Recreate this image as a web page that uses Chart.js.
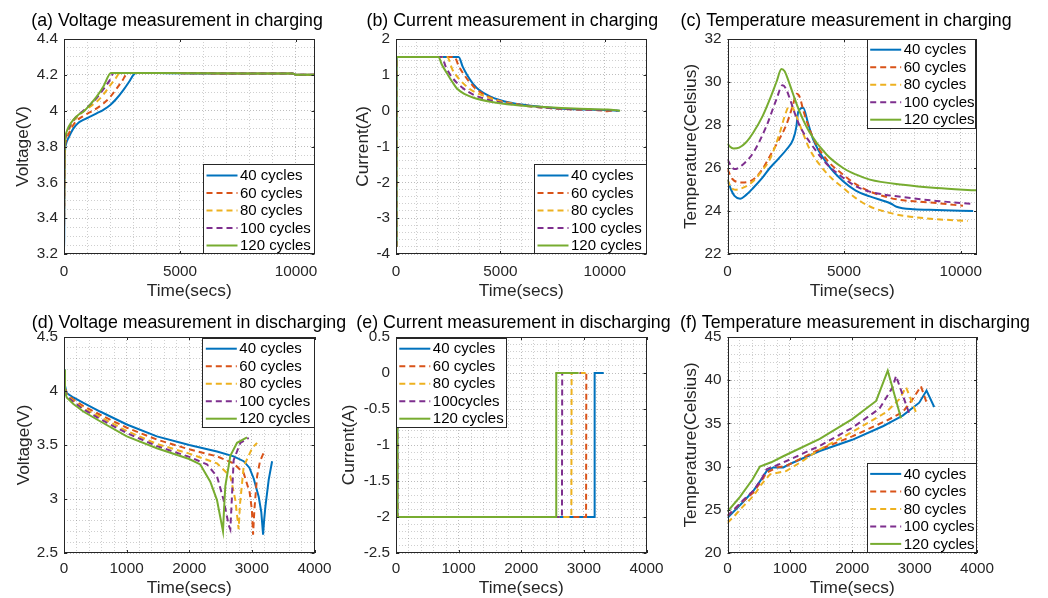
<!DOCTYPE html>
<html><head><meta charset="utf-8">
<script src="https://cdn.jsdelivr.net/npm/chart.js@4.4.1/dist/chart.umd.min.js"></script>
<style>
html,body{margin:0;padding:0;background:#fff;}
body{width:1048px;height:598px;position:relative;overflow:hidden;}
canvas{position:absolute;}
</style></head>
<body>
<canvas id="pa"></canvas><canvas id="pb"></canvas><canvas id="pc"></canvas>
<canvas id="pd"></canvas><canvas id="pe"></canvas><canvas id="pf"></canvas>
<script>
// ---------------- DATA ----------------
const cycleLabels  = ['40 cycles','60 cycles','80 cycles','100 cycles','120 cycles'];
const cycleLabelsE = ['40 cycles','60 cycles','80 cycles','100cycles','120 cycles'];

// (a) voltage in charging  [time s, volts]
const chgVolt40 = [[0,3.23],[10,3.30],[20,3.60],[40,3.76],[80,3.81],[200,3.85],[400,3.90],[600,3.93],[833,3.948],[1100,3.965],[1408,3.985],[1700,4.005],[1983,4.03],[2250,4.065],[2557,4.115],[2800,4.16],[2988,4.199],[3100,4.21],[4000,4.21],[6000,4.207],[8000,4.207],[9850,4.207],[10000,4.2],[10800,4.2]];
const chgVolt60 = [[0,3.30],[20,3.60],[40,3.78],[80,3.83],[200,3.87],[400,3.92],[600,3.95],[833,3.97],[1100,3.99],[1408,4.013],[1700,4.04],[1983,4.075],[2250,4.12],[2500,4.165],[2760,4.21],[4000,4.21],[8000,4.207],[9850,4.207],[10000,4.2],[10800,4.2]];
const chgVolt80 = [[0,3.34],[20,3.65],[40,3.80],[80,3.85],[200,3.89],[400,3.94],[600,3.97],[833,3.995],[1100,4.02],[1408,4.05],[1700,4.09],[1983,4.14],[2200,4.175],[2414,4.21],[4000,4.21],[8000,4.207],[9850,4.207],[10000,4.2],[10800,4.2]];
const chgVolt100 = [[0,3.34],[20,3.66],[40,3.81],[80,3.86],[200,3.90],[400,3.945],[600,3.975],[833,4.0],[1100,4.03],[1408,4.07],[1700,4.12],[1950,4.165],[2150,4.21],[4000,4.21],[8000,4.207],[9850,4.207],[10000,4.2],[10800,4.2]];
const chgVolt120 = [[0,3.35],[20,3.70],[40,3.836],[80,3.87],[200,3.91],[400,3.948],[600,3.975],[833,3.994],[1100,4.03],[1408,4.078],[1700,4.135],[2026,4.21],[4000,4.21],[8000,4.207],[9850,4.207],[10000,4.2],[10800,4.2]];

// (b) current in charging  [time s, amps]
const chgCurr40 = [[25,-3.8],[30,1.5],[3000,1.5],[3200,1.22],[3400,1.0],[3700,0.74],[4000,0.57],[4500,0.4],[5000,0.29],[5500,0.22],[6000,0.17],[7000,0.1],[8000,0.05],[9000,0.03],[10000,0.02],[10700,0.0]];
const chgCurr60 = [[25,-3.8],[30,1.5],[2800,1.5],[3000,1.25],[3300,0.97],[3700,0.68],[4000,0.53],[4500,0.37],[5000,0.27],[5500,0.21],[6000,0.16],[7000,0.09],[8000,0.05],[9000,0.03],[9800,0.01],[10000,-0.02],[10300,0.0]];
const chgCurr80 = [[25,-3.8],[30,1.5],[2450,1.5],[2700,1.15],[3000,0.9],[3500,0.62],[4000,0.46],[4500,0.35],[5000,0.26],[5500,0.2],[6000,0.15],[7000,0.09],[8000,0.05],[9000,0.03],[10000,0.01],[10500,0.0]];
const chgCurr100 = [[25,-3.8],[30,1.5],[2180,1.5],[2400,1.2],[2700,0.92],[3200,0.63],[3700,0.45],[4200,0.34],[5000,0.23],[6000,0.15],[7000,0.09],[8000,0.05],[9000,0.03],[10000,0.01],[10600,0.0]];
const chgCurr120 = [[25,-3.8],[30,1.5],[2035,1.5],[2200,1.28],[2436,1.05],[2700,0.8],[2917,0.62],[3300,0.46],[3718,0.36],[4520,0.25],[5321,0.18],[6100,0.14],[6924,0.11],[8526,0.06],[10129,0.03],[10737,0.0]];

// (c) temperature in charging  [time s, deg C]
const chgTemp40 = [[0,25.46],[150,25.0],[300,24.7],[540,24.57],[800,24.75],[1100,25.07],[1500,25.55],[1815,26.0],[2200,26.45],[2530,26.86],[2815,27.33],[2950,27.9],[3030,28.6],[3245,28.8],[3450,28.1],[3673,27.33],[4245,26.24],[4960,25.38],[5500,24.95],[6103,24.68],[7000,24.35],[7247,24.2],[8000,24.08],[8962,24.05],[10535,24.0]];
const chgTemp60 = [[0,25.95],[200,25.5],[600,25.33],[1100,25.46],[1500,25.95],[1815,26.55],[2200,27.3],[2530,28.03],[2800,28.9],[2960,29.45],[3100,29.3],[3245,28.7],[3673,27.4],[4245,26.4],[4960,25.69],[5500,25.25],[6103,24.91],[7000,24.6],[7533,24.5],[8962,24.37],[10100,24.24]];
const chgTemp80 = [[0,25.46],[150,25.1],[330,24.99],[700,25.1],[1100,25.38],[1500,25.9],[1815,26.4],[2245,27.64],[2450,28.4],[2650,28.88],[2800,28.8],[2960,28.4],[3245,27.6],[3530,26.86],[4245,25.77],[4960,25.07],[5500,24.6],[6103,24.21],[7000,23.9],[7533,23.78],[8962,23.62],[10300,23.54]];
const chgTemp100 = [[0,26.4],[150,26.1],[300,25.95],[700,26.2],[1100,26.7],[1670,27.95],[2100,29.2],[2360,29.85],[2500,29.7],[2680,29.2],[2900,28.5],[3100,27.95],[3530,27.2],[4245,26.2],[4960,25.55],[5500,25.15],[6103,24.9],[7533,24.65],[8962,24.47],[10535,24.33]];
const chgTemp120 = [[0,27.14],[100,27.0],[260,26.91],[500,26.95],[800,27.2],[1100,27.64],[1500,28.4],[1815,29.2],[2100,30.0],[2315,30.6],[2450,30.5],[2600,30.1],[2815,29.43],[3100,28.6],[3530,27.64],[4245,26.63],[4960,26.0],[5500,25.7],[6103,25.46],[7533,25.22],[8962,25.07],[10700,24.96]];

// (d) voltage in discharging
const disVolt40 = [[0,4.2],[15,4.05],[43,3.98],[150,3.94],[309,3.89],[576,3.81],[1003,3.69],[1483,3.58],[2000,3.5],[2443,3.44],[2709,3.395],[2869,3.35],[2960,3.29],[3029,3.19],[3109,3.02],[3150,2.88],[3179,2.67],[3195,2.8],[3216,2.93],[3269,3.18],[3323,3.35]];
const disVolt60 = [[0,4.2],[15,4.03],[43,3.97],[150,3.92],[309,3.86],[576,3.78],[1003,3.66],[1483,3.55],[2000,3.46],[2443,3.395],[2709,3.33],[2869,3.24],[2965,3.06],[3000,2.9],[3019,2.67],[3040,2.9],[3083,3.21],[3130,3.35],[3189,3.43]];
const disVolt80 = [[0,4.2],[15,4.02],[43,3.96],[150,3.91],[309,3.84],[576,3.76],[1003,3.63],[1483,3.51],[2000,3.42],[2443,3.33],[2656,3.21],[2736,2.99],[2789,2.72],[2810,2.95],[2869,3.30],[3003,3.47],[3083,3.52]];
const disVolt100 = [[0,4.2],[15,4.01],[43,3.95],[150,3.9],[309,3.83],[576,3.74],[1003,3.61],[1483,3.49],[2000,3.39],[2283,3.32],[2443,3.21],[2549,2.99],[2629,2.76],[2656,2.72],[2680,3.0],[2709,3.36],[2816,3.52],[2949,3.565]];
const disVolt120 = [[0,4.2],[15,4.0],[43,3.94],[150,3.88],[309,3.81],[576,3.72],[1003,3.58],[1483,3.47],[2000,3.37],[2176,3.32],[2336,3.16],[2443,2.99],[2539,2.7],[2555,2.9],[2576,3.12],[2656,3.4],[2763,3.52],[2923,3.57]];

// (e) current in discharging
const disCurr40 = [[20,0],[22,-2.0],[3168,-2.0],[3172,0],[3317,0]];
const disCurr60 = [[20,0],[22,-2.0],[3035,-2.0],[3039,0],[3080,0]];
const disCurr80 = [[20,0],[22,-2.0],[2800,-2.0],[2804,0],[3050,0]];
const disCurr100 = [[20,0],[22,-2.0],[2650,-2.0],[2654,0],[2950,0]];
const disCurr120 = [[20,0],[22,-2.0],[2555,-2.0],[2559,0],[2917,0]];

// (f) temperature in discharging
const disTemp40 = [[0,24.07],[100,24.8],[250,25.9],[415,27.2],[550,28.6],[628,29.5],[734,29.9],[894,29.9],[1000,30.3],[1479,31.8],[2000,33.1],[2500,34.7],[2600,35.1],[2809,35.9],[3074,37.4],[3191,38.8],[3314,36.9]];
const disTemp60 = [[0,24.3],[100,25.0],[250,26.0],[415,27.0],[550,28.4],[628,29.3],[787,29.9],[947,30.1],[1479,32.0],[2000,33.5],[2543,35.3],[2809,36.3],[2968,37.8],[3101,39.3],[3207,37.1]];
const disTemp80 = [[0,23.5],[100,24.2],[250,25.4],[415,26.6],[550,28.0],[681,29.1],[947,29.5],[1213,30.7],[1479,32.0],[2000,34.0],[2543,36.3],[2755,37.8],[2862,39.2],[3021,36.3]];
const disTemp100 = [[0,24.3],[100,25.0],[250,26.1],[415,27.2],[550,28.6],[628,29.7],[840,30.3],[1479,32.4],[2000,34.5],[2436,36.7],[2649,39.2],[2702,40.5],[2915,36.1]];
const disTemp120 = [[0,24.8],[200,26.5],[400,28.5],[520,30.0],[700,30.5],[894,31.2],[1479,33.2],[2000,35.5],[2383,37.6],[2569,41.1],[2782,35.6]];

// ---------------- STYLE ----------------
const FONT = "'Liberation Sans', Arial, Helvetica, sans-serif";
const COLORS = ['#0072BD','#D95319','#EDB120','#7E2F8E','#77AC30'];
const DASHES = [[], [6,4], [6,4], [6,4], []];
const AXIS = '#262626';
const GRID_MAJ = 'rgba(38,38,38,0.30)';
const GRID_MIN = 'rgba(38,38,38,0.22)';

const panels = [
  {id:'pa', cv:[0,0,362,310], plot:[64,39,314.5,254], x:[0,10800,5000,1000], y:[3.2,4.4,0.2,0.05],
   title:'(a) Voltage measurement in charging', tpos:[177,21.5], ytitle:'Voltage(V)', ytc:23.5, xtc:291.7, xtick:8.3,
   legend:[203,164.3,314.5,254], labels:cycleLabels, series:[chgVolt40,chgVolt60,chgVolt80,chgVolt100,chgVolt120], smooth:true},
  {id:'pb', cv:[335,0,345,310], plot:[396,39,646.5,254], x:[0,12000,5000,1000], y:[-4,2,1,0.2],
   title:'(b) Current measurement in charging', tpos:[512.3,21.5], ytitle:'Current(A)', ytc:363.3, xtc:291.7, xtick:8.3,
   legend:[534,164.3,646.5,254], labels:cycleLabels, series:[chgCurr40,chgCurr60,chgCurr80,chgCurr100,chgCurr120], smooth:true},
  {id:'pc', cv:[670,0,378,310], plot:[727.5,39,977,254], x:[0,10700,5000,1000], y:[22,32,2,0.4],
   title:'(c) Temperature measurement in charging', tpos:[846,21.5], ytitle:'Temperature(Celsius)', ytc:691, xtc:291.7, xtick:8.3,
   legend:[866.7,38.5,976,128.5], labels:cycleLabels, series:[chgTemp40,chgTemp60,chgTemp80,chgTemp100,chgTemp120], smooth:true},
  {id:'pd', cv:[0,300,362,298], plot:[64,337,314.5,553], x:[0,4000,1000,200], y:[2.5,4.5,0.5,0.1],
   title:'(d) Voltage measurement in discharging', tpos:[189,323], ytitle:'Voltage(V)', ytc:24, xtc:588, xtick:7,
   legend:[202.3,337.5,314.5,427.5], labels:cycleLabels, series:[disVolt40,disVolt60,disVolt80,disVolt100,disVolt120], smooth:false},
  {id:'pe', cv:[335,300,345,298], plot:[396,337,646.5,553], x:[0,4000,1000,200], y:[-2.5,0.5,0.5,0.1],
   title:'(e) Current measurement in discharging', tpos:[513.5,323], ytitle:'Current(A)', ytc:349, xtc:588, xtick:7,
   legend:[395.8,337.5,506.7,428.3], labels:cycleLabelsE, series:[disCurr40,disCurr60,disCurr80,disCurr100,disCurr120], smooth:false},
  {id:'pf', cv:[670,300,378,298], plot:[727.5,337,977,553], x:[0,4000,1000,200], y:[20,45,5,1],
   title:'(f) Temperature measurement in discharging', tpos:[855,323], ytitle:'Temperature(Celsius)', ytc:691, xtc:588, xtick:7,
   legend:[866.7,462.7,977,553], labels:cycleLabels, series:[disTemp40,disTemp60,disTemp80,disTemp100,disTemp120], smooth:false}
];

function isMajor(v, major){ const r = v / major; return Math.abs(r - Math.round(r)) < 1e-6; }
function fmt(v){ let s = String(+v.toFixed(4)); if (s === '-0') s = '0'; return s; }
function stepValues(min, max, step){
  const out = [];
  const k0 = Math.ceil(min/step - 1e-9), k1 = Math.floor(max/step + 1e-9);
  for (let k = k0; k <= k1; k++) out.push(+(k*step).toFixed(6));
  return out;
}

const TICK_SIZE = 15.3, TITLE_SIZE = 17.8, ATITLE_SIZE = 17.3, LEG_SIZE = 15;

function makeDecor(p){
  const [cx, cy] = p.cv;
  return {
    id: 'decor_' + p.id,
    afterDraw(chart){
      const ctx = chart.ctx, a = chart.chartArea;
      const xs = chart.scales.x, ys = chart.scales.y;
      ctx.save();
      ctx.strokeStyle = AXIS; ctx.lineWidth = 1; ctx.setLineDash([]);
      ctx.beginPath();
      const tl = 3;
      stepValues(p.x[0], p.x[1], p.x[2]).forEach(v => {
        const px = Math.round(xs.getPixelForValue(v)) + 0.5;
        ctx.moveTo(px, a.bottom); ctx.lineTo(px, a.bottom - tl);
        ctx.moveTo(px, a.top); ctx.lineTo(px, a.top + tl);
      });
      stepValues(p.y[0], p.y[1], p.y[2]).forEach(v => {
        const py = Math.round(ys.getPixelForValue(v)) + 0.5;
        ctx.moveTo(a.left, py); ctx.lineTo(a.left + tl, py);
        ctx.moveTo(a.right, py); ctx.lineTo(a.right - tl, py);
      });
      ctx.stroke();
      const l = Math.round(a.left)+0.5, t = Math.round(a.top)+0.5, r = Math.round(a.right)-0.5, b = Math.round(a.bottom)-0.5;
      ctx.strokeRect(l, t, r-l, b-t);
      // legend
      const lx0 = p.legend[0]-cx, ly0 = p.legend[1]-cy, lx1 = p.legend[2]-cx, ly1 = p.legend[3]-cy;
      const L0 = Math.round(lx0)+0.5, T0 = Math.round(ly0)+0.5, L1 = Math.round(lx1)-0.5, T1 = Math.round(ly1)-0.5;
      ctx.fillStyle = '#fff';
      ctx.fillRect(L0, T0, L1-L0, T1-T0);
      ctx.strokeStyle = AXIS; ctx.lineWidth = 1;
      ctx.strokeRect(L0, T0, L1-L0, T1-T0);
      ctx.font = LEG_SIZE + 'px ' + FONT;
      ctx.textBaseline = 'middle'; ctx.textAlign = 'left';
      p.labels.forEach((lab, i) => {
        const yy = ly0 + 11.2 + i*17.5;
        ctx.beginPath();
        ctx.strokeStyle = COLORS[i]; ctx.lineWidth = 2; ctx.setLineDash(DASHES[i]);
        ctx.moveTo(lx0 + 3.5, yy); ctx.lineTo(lx0 + 34.5, yy); ctx.stroke();
        ctx.setLineDash([]);
        ctx.fillStyle = '#000';
        ctx.fillText(lab, lx0 + 37, yy + 0.5);
      });
      // title
      ctx.font = TITLE_SIZE + 'px ' + FONT;
      ctx.fillStyle = '#000'; ctx.textAlign = 'center'; ctx.textBaseline = 'middle';
      ctx.fillText(p.title, p.tpos[0] - cx, p.tpos[1] - cy);
      ctx.restore();
    }
  };
}

Chart.defaults.font.family = FONT;

panels.forEach(p => {
  const [cx, cy, cw, ch] = p.cv;
  const [L, T, R, B] = p.plot;
  const cv = document.getElementById(p.id);
  cv.width = cw; cv.height = ch;
  cv.style.left = cx + 'px'; cv.style.top = cy + 'px';
  cv.style.width = cw + 'px'; cv.style.height = ch + 'px';
  const atLH = ATITLE_SIZE * 1.2;
  const datasets = p.series.map((s, i) => ({
    label: p.labels[i],
    data: s.map(([x, y]) => ({x, y})),
    borderColor: COLORS[i],
    backgroundColor: COLORS[i],
    borderWidth: 2,
    borderDash: DASHES[i],
    pointRadius: 0,
    fill: false,
    tension: 0,
    cubicInterpolationMode: p.smooth ? 'monotone' : 'default',
    order: 4 - i
  }));
  const gridColor = major => (c => (c.tick && isMajor(c.tick.value, major)) ? GRID_MAJ : GRID_MIN);
  const xTicks = stepValues(p.x[0], p.x[1], p.x[3]);
  const yTicks = stepValues(p.y[0], p.y[1], p.y[3]);
  new Chart(cv, {
    type: 'line',
    data: { datasets },
    plugins: [makeDecor(p)],
    options: {
      responsive: false, animation: false, devicePixelRatio: 1, events: [],
      layout: { padding: { left: 0, top: T - cy, right: cx + cw - R, bottom: 0 } },
      plugins: { legend: { display: false }, tooltip: { enabled: false }, title: { display: false } },
      scales: {
        x: {
          type: 'linear', min: p.x[0], max: p.x[1],
          afterBuildTicks: s => { s.ticks = xTicks.map(v => ({value: v})); },
          ticks: { autoSkip: false, maxRotation: 0, minRotation: 0, padding: p.xtick,
                   color: AXIS, font: { size: TICK_SIZE, family: FONT },
                   callback: v => isMajor(v, p.x[2]) ? fmt(v) : '' },
          grid: { color: gridColor(p.x[2]), lineWidth: 1, drawTicks: false, borderDash: [1,2] },
          border: { display: false, dash: [1,2] },
          title: { display: true, text: 'Time(secs)', color: AXIS,
                   font: { size: ATITLE_SIZE, family: FONT, lineHeight: 1.2 },
                   padding: { top: 0, bottom: (cy + ch - p.xtc) - atLH/2 } },
          afterFit: s => { s.height = cy + ch - B; }
        },
        y: {
          type: 'linear', min: p.y[0], max: p.y[1],
          afterBuildTicks: s => { s.ticks = yTicks.map(v => ({value: v})); },
          ticks: { autoSkip: false, padding: 6,
                   color: AXIS, font: { size: TICK_SIZE, family: FONT },
                   callback: v => isMajor(v, p.y[2]) ? fmt(v) : '' },
          grid: { color: gridColor(p.y[2]), lineWidth: 1, drawTicks: false, borderDash: [1,2] },
          border: { display: false, dash: [1,2] },
          title: { display: true, text: p.ytitle, color: AXIS,
                   font: { size: ATITLE_SIZE, family: FONT, lineHeight: 1.2 },
                   padding: { top: (p.ytc - cx) - atLH/2, bottom: 0 } },
          afterFit: s => { s.width = L - cx; }
        }
      }
    }
  });
});
</script>
</body></html>
